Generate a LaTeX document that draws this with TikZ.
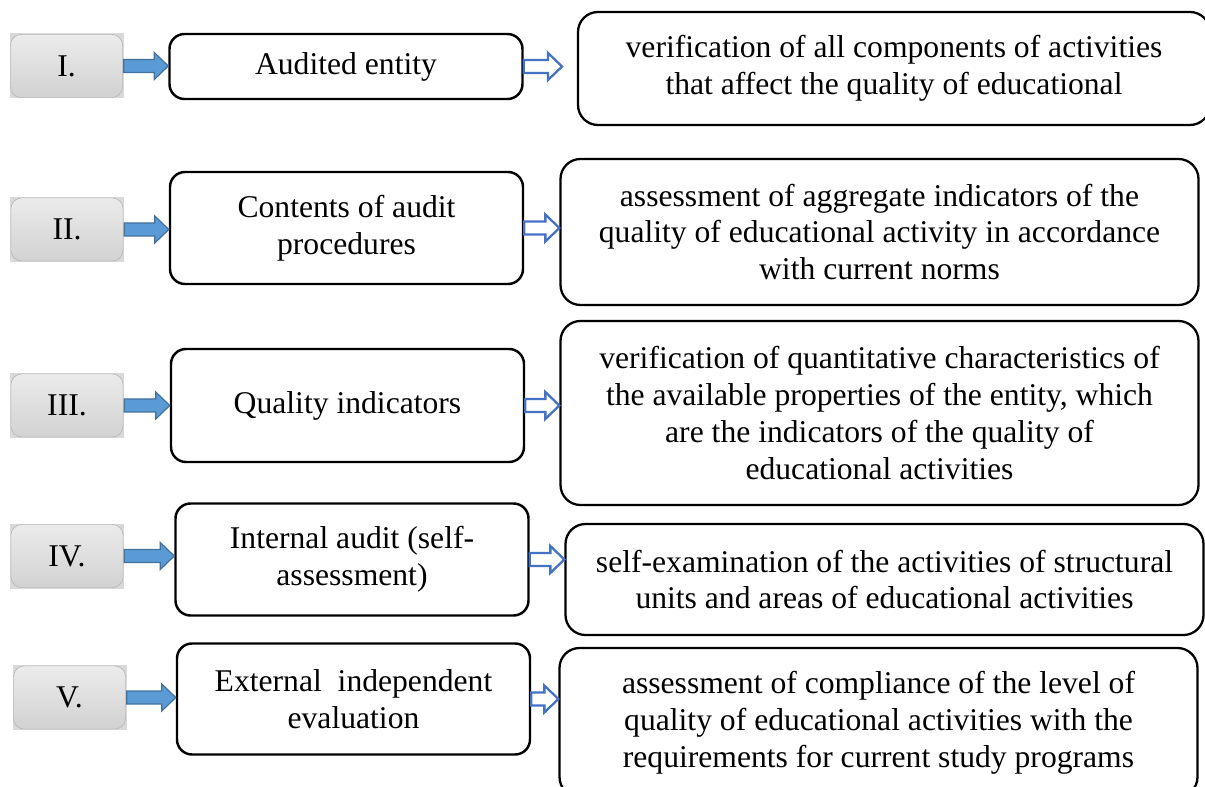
\documentclass[tikz,border=0pt]{standalone}
\usepackage{fontspec}
\setmainfont{Liberation Serif}
\definecolor{auditBlue}{RGB}{91,155,213}
\definecolor{auditEdge}{RGB}{65,113,156}
\definecolor{auditOpen}{RGB}{68,114,196}
\usetikzlibrary{calc}
\newcommand{\auditfont}{\fontsize{18}{21}\selectfont}
% block arrow from one anchor to the x of another, at the height of the first
\newcommand{\blockarrow}[3]{%
  \draw[#1] let \p1=(#2), \p2=(#3) in
    (\x1,\y1+1.3mm) -- (\x2-2.8mm,\y1+1.3mm) -- (\x2-2.8mm,\y1+2.7mm)
    -- (\x2,\y1) -- (\x2-2.8mm,\y1-2.7mm) -- (\x2-2.8mm,\y1-1.3mm)
    -- (\x1,\y1-1.3mm) -- cycle;}

\begin{document}
\begin{tikzpicture}[
  numbox/.style={rectangle, fill=gray!30, minimum width=2.28cm, minimum height=1.3cm,
                 inner sep=0pt, font=\auditfont,
                 path picture={\shadedraw[top color=gray!15, bottom color=gray!36,
                   draw=gray!55, rounded corners=0.22cm]
                   ([shift={(0.5pt,-0.5pt)}]path picture bounding box.north west) rectangle
                   ([shift={(-0.5pt,0.5pt)}]path picture bounding box.south east);}},
  topic/.style={draw, line width=1.4pt, rounded corners=0.3cm, minimum width=7.06cm,
                align=center, font=\auditfont},
  detail/.style={draw, line width=1.3pt, rounded corners=0.4cm, minimum width=12.76cm,
                 align=center, font=\auditfont},
  solidarrow/.style={fill=auditBlue, draw=auditEdge, line width=0.7pt},
  openarrow/.style={fill=white, draw=auditOpen, line width=1.3pt}
]
  \useasboundingbox (0,0) rectangle (24.1,-15.74);

  % row I
  \node[numbox] (nI) at (1.33,-1.32) {I.};
  \node[topic, minimum height=1.30cm] (tI) at (6.92,-1.33) {Audited entity};
  \node[detail, minimum width=12.64cm, minimum height=2.26cm] (dI) at (17.88,-1.37)
    {verification of all components of activities\\that affect the quality of educational};
  \coordinate (dIin) at (11.24,-1.37);

  % row II
  \node[numbox] (nII) at (1.34,-4.59) {II.};
  \node[topic, minimum height=2.24cm] (tII) at (6.93,-4.56) {Contents of audit\\procedures};
  \node[detail, minimum height=2.92cm] (dII) at (17.59,-4.64)
    {assessment of aggregate indicators of the\\quality of educational activity in accordance\\with current norms};

  % row III
  \node[numbox] (nIII) at (1.34,-8.11) {III.};
  \node[topic, minimum height=2.26cm] (tIII) at (6.95,-8.11) {Quality indicators};
  \node[detail, minimum height=3.68cm] (dIII) at (17.59,-8.26)
    {verification of quantitative characteristics of\\the available properties of the entity, which\\are the indicators of the quality of\\educational activities};

  % row IV
  \node[numbox] (nIV) at (1.34,-11.12) {IV.};
  \node[topic, minimum height=2.24cm] (tIV) at (7.04,-11.19) {Internal audit (self-\\assessment)};
  \node[detail, minimum height=2.22cm] (dIV) at (17.69,-11.59)
    {self-examination of the activities of structural\\units and areas of educational activities};

  % row V
  \node[numbox] (nV) at (1.39,-13.95) {V.};
  \node[topic, minimum height=2.22cm] (tV) at (7.07,-13.98) {External\ \ independent\\evaluation};
  \node[detail, minimum height=2.98cm] (dV) at (17.57,-14.45)
    {assessment of compliance of the level of\\quality of educational activities with the\\requirements for current study programs};

  \blockarrow{solidarrow}{nI.east}{tI.west}
  \blockarrow{solidarrow}{nII.east}{tII.west}
  \blockarrow{solidarrow}{nIII.east}{tIII.west}
  \blockarrow{solidarrow}{nIV.east}{tIV.west}
  \blockarrow{solidarrow}{nV.east}{tV.west}

  \blockarrow{openarrow}{tI.east}{dIin}
  \blockarrow{openarrow}{tII.east}{dII.west}
  \blockarrow{openarrow}{tIII.east}{dIII.west}
  \blockarrow{openarrow}{tIV.east}{dIV.west}
  \blockarrow{openarrow}{tV.east}{dV.west}
\end{tikzpicture}
\end{document}
